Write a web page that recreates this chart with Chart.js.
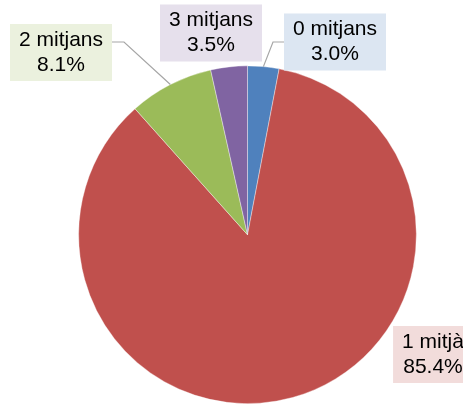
<!DOCTYPE html>
<html>
<head>
<meta charset="utf-8">
<script src="https://cdn.jsdelivr.net/npm/chart.js@4/dist/chart.umd.min.js"></script>
<style>
  html, body { margin: 0; padding: 0; background: #fff; }
  #wrap { width: 463px; height: 404px; position: relative; }
</style>
</head>
<body>
<div id="wrap"><canvas id="c" width="463" height="404"></canvas></div>
<script>
// ---- data ----
const categories = ["0 mitjans", "1 mitjà", "2 mitjans", "3 mitjans"];
const percentages = [3.0, 85.4, 8.1, 3.5];

// ---- styles ----
const sliceColors = ["#4F81BD", "#C0504D", "#9BBB59", "#8064A2"];
const boxColors = ["#DCE6F2", "#F2DCDB", "#EBF1DE", "#E6E0EC"];
// label box layout (center x, center y) and optional leader elbow
const labelLayout = [
  { cx: 335, cy: 42, leader: [[284, 42], [273, 42]] },
  { cx: 433, cy: 354.5, leader: null },
  { cx: 61, cy: 52.5, leader: [[112, 42], [124, 42]] },
  { cx: 211, cy: 33, leader: null }
];
const FONT = '21px "Liberation Sans", Arial, sans-serif';

const labelPlugin = {
  id: 'calloutLabels',
  afterDatasetsDraw(chart) {
    const ctx = chart.ctx;
    const meta = chart.getDatasetMeta(0);
    ctx.save();
    meta.data.forEach((arc, i) => {
      const p = arc.getProps(['x', 'y', 'startAngle', 'endAngle', 'outerRadius'], true);
      const mid = (p.startAngle + p.endAngle) / 2;
      const ax = p.x + Math.cos(mid) * p.outerRadius;
      const ay = p.y + Math.sin(mid) * p.outerRadius;
      const L = labelLayout[i];
      if (L.leader) {
        ctx.strokeStyle = '#A6A6A6';
        ctx.lineWidth = 1.2;
        ctx.beginPath();
        ctx.moveTo(L.leader[0][0], L.leader[0][1]);
        ctx.lineTo(L.leader[1][0], L.leader[1][1]);
        ctx.lineTo(ax, ay);
        ctx.stroke();
      }
      const lines = [categories[i], chart.data.datasets[0].data[i].toFixed(1) + '%'];
      ctx.font = FONT;
      const w = Math.max(...lines.map(t => ctx.measureText(t).width)) + 18;
      const h = 57;
      ctx.fillStyle = boxColors[i];
      ctx.fillRect(L.cx - w / 2, L.cy - h / 2, w, h);
      ctx.fillStyle = '#000';
      ctx.textAlign = 'center';
      ctx.textBaseline = 'middle';
      ctx.fillText(lines[0], L.cx, L.cy - 12.5);
      ctx.fillText(lines[1], L.cx, L.cy + 12.5);
    });
    ctx.restore();
  }
};

new Chart(document.getElementById('c'), {
  type: 'pie',
  data: {
    labels: categories,
    datasets: [{
      data: percentages,
      backgroundColor: sliceColors,
      borderColor: 'rgba(255,255,255,0.5)',
      borderWidth: 0.75
    }]
  },
  options: {
    responsive: false,
    animation: false,
    layout: { padding: { left: 78, right: 46, top: 65.5, bottom: 0 } },
    plugins: { legend: { display: false }, tooltip: { enabled: false } }
  },
  plugins: [labelPlugin]
});
</script>
</body>
</html>
